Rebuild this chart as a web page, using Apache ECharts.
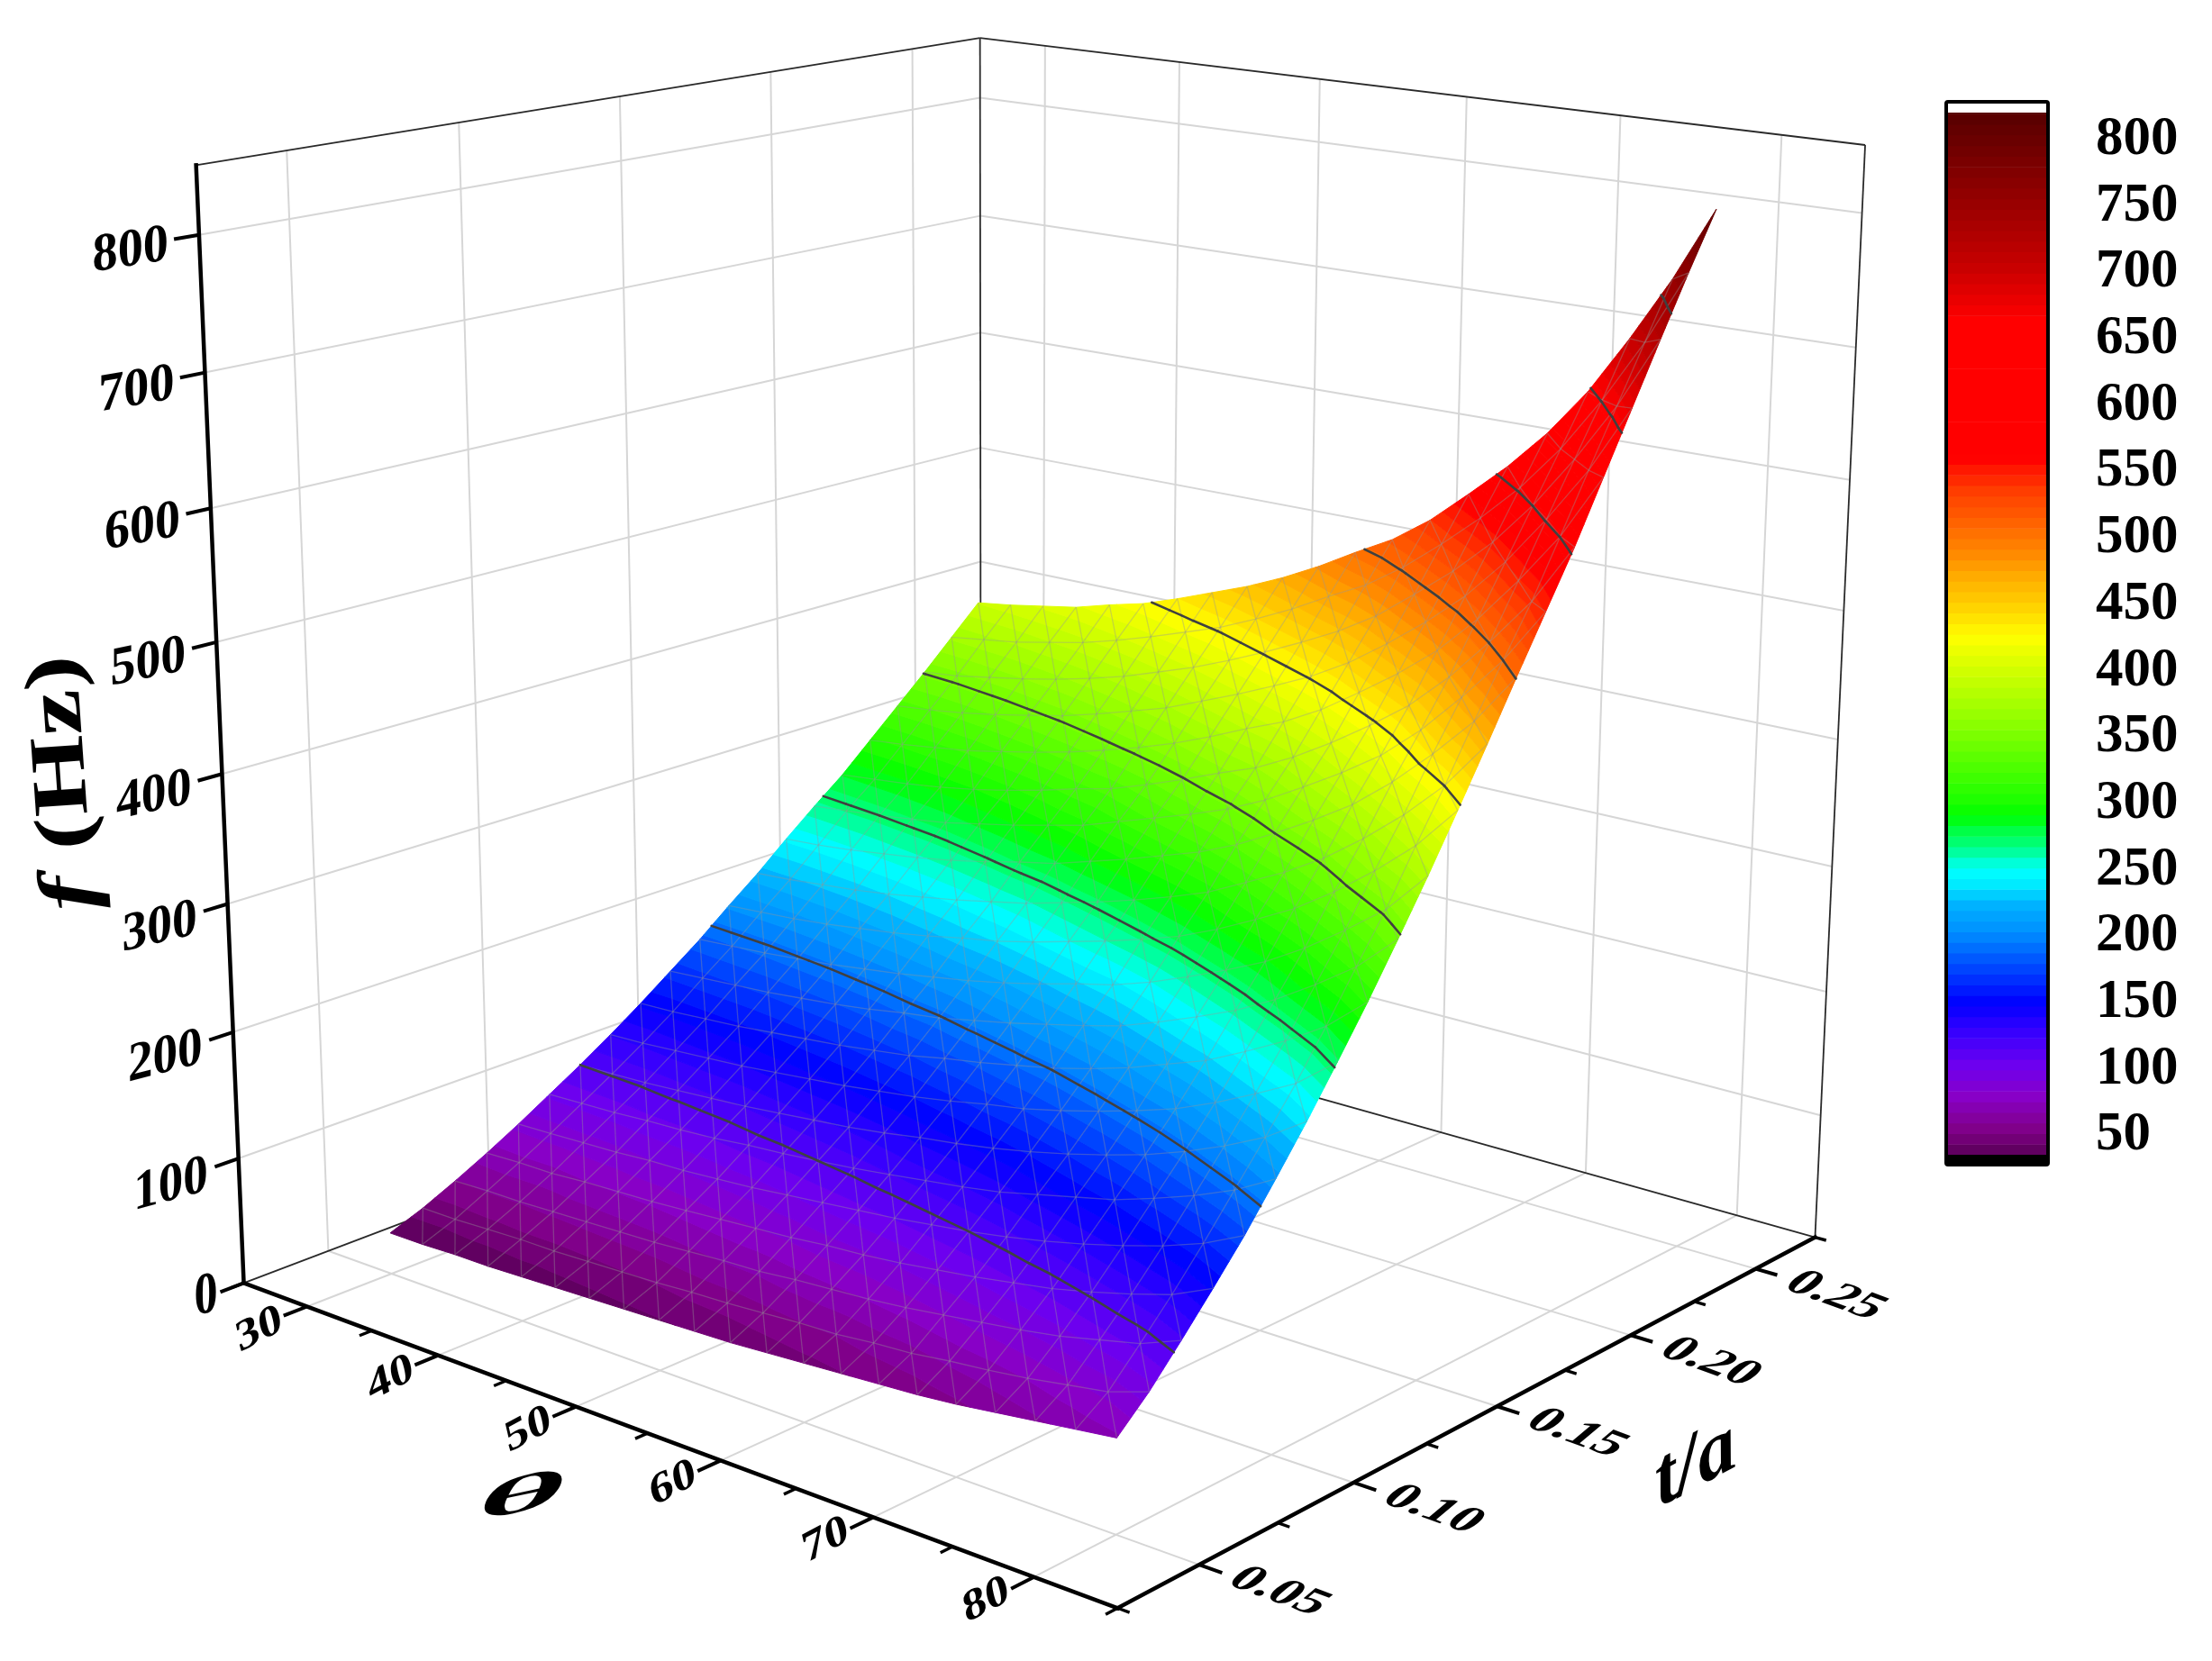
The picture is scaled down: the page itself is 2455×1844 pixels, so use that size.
<!DOCTYPE html><html><head><meta charset="utf-8"><script src="https://cdn.jsdelivr.net/npm/echarts@6/dist/echarts.min.js"></script><style>html,body{margin:0;background:#fff}#c{width:2455px;height:1844px}</style></head><body><div id="c"></div><script>
// ---------- data ----------
const thetaValues=[30,32.5,35,37.5,40,42.5,45,47.5,50,52.5,55,57.5,60,62.5,65,67.5,70,72.5,75,77.5,80];
const ratioValues=[.05,.06,.07,.08,.09,.10,.11,.12,.13,.14,.15,.16,.17,.18,.19,.20,.21,.22,.23,.24,.25];
const fGrid=[
[33,33,34,34,35,36,37,38,39,40,41,43,45,47,49,51,54,58,62,66,70],
[43,43,44,45,45,46,47,48,50,51,53,55,56,59,61,65,68,72,77,82,92],
[55,56,56,57,58,59,60,62,64,65,68,70,72,75,79,83,87,92,99,106,118],
[68,69,69,71,72,73,75,77,79,81,84,86,89,93,97,102,107,114,122,131,145],
[82,83,84,85,87,88,90,92,95,98,101,104,108,112,117,123,130,138,147,158,173],
[97,98,99,101,102,104,107,109,112,115,119,123,127,132,139,146,153,163,174,187,204],
[112,113,114,116,118,120,123,126,129,133,138,142,147,153,160,168,177,188,201,216,236],
[128,129,131,133,135,138,141,144,148,152,157,163,168,175,183,192,202,215,230,246,270],
[145,146,148,150,153,156,159,163,167,173,178,184,190,198,207,218,229,244,260,279,305],
[163,165,167,169,172,175,179,184,188,194,200,207,214,222,233,245,258,274,293,314,342],
[181,183,185,188,191,195,199,204,209,215,222,230,237,247,259,272,286,304,325,348,380],
[201,203,205,208,212,216,221,227,232,239,247,255,264,274,287,302,318,338,361,387,420],
[220,222,225,228,232,237,242,248,254,262,270,279,289,300,315,330,348,370,395,424,461],
[241,243,246,250,254,259,265,272,278,287,296,306,316,329,345,362,381,405,433,464,503],
[261,264,267,271,275,281,287,294,301,311,321,331,342,356,373,391,411,437,468,502,544],
[280,283,286,290,295,301,308,316,323,333,344,356,367,382,400,420,442,470,503,539,585],
[302,305,309,313,319,325,332,340,349,359,371,384,396,412,432,453,477,507,542,581,630],
[324,327,331,336,342,348,356,365,374,386,398,411,425,442,463,486,512,544,582,624,675],
[346,349,354,359,365,372,380,390,400,412,425,439,454,472,495,519,547,581,621,666,720],
[369,373,377,383,389,397,406,416,426,439,453,469,484,504,528,554,583,618,660,708,764],
[392,396,401,406,414,421,431,442,453,466,481,498,514,535,561,588,619,656,701,750,806]];
const contourLevels=[112,189,267,345,423.5,502,580.5,659,737];
const thetaMajor=[30,40,50,60,70,80], thetaMinor=[25,35,45,55,65,75,85];
const ratioMajor=[.05,.10,.15,.20,.25], ratioMinor=[.025,.075,.125,.175,.225,.275];
const fMajor=[0,100,200,300,400,500,600,700,800];
const barTicks=[50,100,150,200,250,300,350,400,450,500,550,600,650,700,750,800];
const colorStops=[31,35,50,76,100,127,146,164,182,200,219,237,246,255,264,277,287,300,325,350,377,400,422,431,450,465,485,500,516,530,551,556,660,700,750,800,817];
const colorValues=['#5a005a','#600060','#800086','#8800c8','#6c00f0','#3000ff','#0000ff','#0030ff','#0060ff','#0090ff','#00b0ff','#00f0ff','#00ffff','#00ffc0','#00ff80','#00ff40','#00ff00','#20ff00','#50ff00','#80ff00','#b0ff00','#d8ff00','#ffff00','#ffeb00','#ffc800','#ffb000','#ff8800','#ff7000','#ff5500','#ff4000','#ff1000','#ff0000','#ff0000','#c80000','#960000','#660000','#550000'];
// ---------- box limits ----------
const TH0=25,TH1=85,R0=.025,R1=.275,F0=0,F1=850,BAR0=31.5,BAR1=816.3;
// ---------- projection: least-squares camera through the picture's box corners and ticks ----------
const corners=[[25,.025,0,270,1425],[85,.025,0,1240,1785],[85,.275,0,2015,1374],[25,.275,0,1088,1112],[25,.025,850,217,181],[25,.275,850,1088,41.5],[85,.275,850,2070,160]];
const anchors=[...corners,...corners,...corners,
[30,.025,0,340,1449],[40,.025,0,488,1506.5],[50,.025,0,638,1561],[60,.025,0,800,1621],[70,.025,0,968,1683],[80,.025,0,1147,1750],
[85,.05,0,1332,1736],[85,.1,0,1501,1647],[85,.15,0,1662,1560],[85,.2,0,1811,1482],[85,.25,0,1952,1410],
[25,.025,100,265,1286],[25,.025,200,259,1147],[25,.025,300,253,1005],[25,.025,400,247,861],[25,.025,500,242,715],[25,.025,600,236,565],[25,.025,700,229,414],[25,.025,800,220,262],
[25,.275,800,1088,108.5],[25,.275,700,1088,241],[25,.275,600,1088,370.5],[25,.275,500,1088,498],[25,.275,400,1088,625],
[85,.275,800,2066,239],[85,.275,700,2059,386],[85,.275,600,2052,533],[85,.275,500,2045,679]];
const nm=(th,t,f)=>[(th-55)/30,(t-.15)/.125,(f-425)/425];
const P=(()=>{const N=Array.from({length:11},()=>new Array(12).fill(0));
 const add=(r,v)=>{for(let i=0;i<11;i++){for(let j=0;j<11;j++)N[i][j]+=r[i]*r[j];N[i][11]+=r[i]*v;}};
 for(const q of anchors){const [a,b,c]=nm(q[0],q[1],q[2]);const x=q[3]/1000,y=q[4]/1000;add([a,b,c,1,0,0,0,0,-x*a,-x*b,-x*c],x);add([0,0,0,0,a,b,c,1,-y*a,-y*b,-y*c],y);}
 for(let i=0;i<11;i++){let m=i;for(let k=i;k<11;k++)if(Math.abs(N[k][i])>Math.abs(N[m][i]))m=k;[N[i],N[m]]=[N[m],N[i]];for(let k=0;k<11;k++)if(k!=i){const r=N[k][i]/N[i][i];for(let j=i;j<12;j++)N[k][j]-=r*N[i][j];}}
 return N.map((r,i)=>r[11]/r[i]);})();
function project(th,t,f){const [a,b,c]=nm(th,t,f);const w=P[8]*a+P[9]*b+P[10]*c+1;return[1000*(P[0]*a+P[1]*b+P[2]*c+P[3])/w,1000*(P[4]*a+P[5]*b+P[6]*c+P[7])/w];}
// ---------- colours ----------
const hex=s=>[parseInt(s.slice(1,3),16),parseInt(s.slice(3,5),16),parseInt(s.slice(5,7),16)];
function colorOf(v){let i=0;while(i<colorStops.length-2&&v>colorStops[i+1])i++;const k=Math.max(0,Math.min(1,(v-colorStops[i])/(colorStops[i+1]-colorStops[i])));const a=hex(colorValues[i]),b=hex(colorValues[i+1]);return`rgb(${a.map((x,n)=>Math.round(x+(b[n]-x)*k)).join(',')})`;}
const BAND=8,bandFloor=[];for(let v=BAR0;v<BAR1;v+=BAND)bandFloor.push(v);
// ---------- triangles ----------
const triangles=[];
for(let j=ratioValues.length-2;j>=0;j--)for(let i=0;i<thetaValues.length-1;i++){triangles.push([i,j,i+1,j,i,j+1]);triangles.push([i+1,j,i+1,j+1,i,j+1]);}
const vertex=(i,j)=>[thetaValues[i],ratioValues[j],fGrid[j][i]];
function clipPoly(poly,level,keepAbove){const out=[];for(let n=0;n<poly.length;n++){const a=poly[n],b=poly[(n+1)%poly.length];const ia=keepAbove?a[2]>=level:a[2]<=level,ib=keepAbove?b[2]>=level:b[2]<=level;if(ia)out.push(a);if(ia!==ib){const k=(level-a[2])/(b[2]-a[2]);out.push([a[0]+(b[0]-a[0])*k,a[1]+(b[1]-a[1])*k,level]);}}return out;}
const pts=(api,arr)=>arr.map(q=>api.coord(project(q[0],q[1],q[2])));
function renderSurface(p,api){const a=vertex(api.value(0),api.value(1)),b=vertex(api.value(2),api.value(3)),c=vertex(api.value(4),api.value(5));const tri=[a,b,c];const mn=Math.min(a[2],b[2],c[2]),mx=Math.max(a[2],b[2],c[2]);const children=[];
 for(const lo of bandFloor){const hi=lo+BAND;if(hi<mn||lo>mx)continue;let poly=clipPoly(tri,lo,true);if(poly.length<3)continue;poly=clipPoly(poly,hi,false);if(poly.length<3)continue;const col=colorOf(lo+BAND/2);children.push({type:'polygon',shape:{points:pts(api,poly)},style:{fill:col,stroke:col,lineWidth:1}});}
 return{type:'group',children};}
function renderMesh(p,api){const i=api.value(0),j=api.value(1);const children=[];const seg=(u,v)=>children.push({type:'line',shape:(()=>{const [s,e]=pts(api,[u,v]);return{x1:s[0],y1:s[1],x2:e[0],y2:e[1]};})(),style:{stroke:'rgba(150,150,150,0.38)',lineWidth:1.3}});
 if(j>0)seg(vertex(i,j),vertex(i+1,j));if(i>0)seg(vertex(i,j),vertex(i,j+1));seg(vertex(i+1,j),vertex(i,j+1));return{type:'group',children};}
function renderContour(p,api){const tri=triangles[api.value(0)];const t=[vertex(tri[0],tri[1]),vertex(tri[2],tri[3]),vertex(tri[4],tri[5])];const children=[];
 for(const L of contourLevels){const c=[];for(let n=0;n<3;n++){const a=t[n],b=t[(n+1)%3];if((a[2]<L)!==(b[2]<L)){const k=(L-a[2])/(b[2]-a[2]);c.push([a[0]+(b[0]-a[0])*k,a[1]+(b[1]-a[1])*k,L]);}}
  if(c.length===2){const [s,e]=pts(api,c);children.push({type:'line',shape:{x1:s[0],y1:s[1],x2:e[0],y2:e[1]},style:{stroke:'#404040',lineWidth:2.6,lineCap:'round'}});}}
 return{type:'group',children};}
// ---------- box lines: [th1,t1,f1,th2,t2,f2,style] ----------
const boxLines=[];const GR=0,THIN=1,AX=2,MAJ=3,MIN=4;
const zLines=fMajor.filter(v=>v>0);
for(const z of zLines){boxLines.push([TH0,R0,z,TH0,R1,z,GR],[TH0,R1,z,TH1,R1,z,GR]);}
for(const t of ratioMajor){boxLines.push([TH0,t,F0,TH0,t,F1,GR],[TH0,t,F0,TH1,t,F0,GR]);}
for(const th of thetaMajor){boxLines.push([th,R1,F0,th,R1,F1,GR],[th,R0,F0,th,R1,F0,GR]);}
boxLines.push([TH0,R0,F0,TH0,R1,F0,THIN],[TH0,R1,F0,TH1,R1,F0,THIN],[TH0,R1,F0,TH0,R1,F1,THIN],[TH1,R1,F0,TH1,R1,F1,THIN],[TH0,R0,F1,TH0,R1,F1,THIN],[TH0,R1,F1,TH1,R1,F1,THIN]);
boxLines.push([TH0,R0,F0,TH1,R0,F0,AX],[TH1,R0,F0,TH1,R1,F0,AX],[TH0,R0,F0,TH0,R0,F1,AX]);
for(const th of thetaMajor)boxLines.push([th,R0,F0,th,R0-.0068,F0,MAJ]);
for(const th of thetaMinor)boxLines.push([th,R0,F0,th,R0-.0036,F0,MIN]);
for(const t of ratioMajor)boxLines.push([TH1,t,F0,TH1+1.35,t,F0,MAJ]);
for(const t of ratioMinor)boxLines.push([TH1,t,F0,TH1+.7,t,F0,MIN]);
for(const z of fMajor)boxLines.push([TH0,R0,z,TH0,R0-.0068,z,MAJ]);
const lineStyles=[{stroke:'#d6d6d6',lineWidth:2},{stroke:'#2a2a2a',lineWidth:1.8},{stroke:'#000',lineWidth:4.5,lineCap:'square'},{stroke:'#000',lineWidth:4},{stroke:'#000',lineWidth:3.4}];
function renderBox(p,api){const [s,e]=[api.coord(project(api.value(0),api.value(1),api.value(2))),api.coord(project(api.value(3),api.value(4),api.value(5)))];return{type:'line',shape:{x1:s[0],y1:s[1],x2:e[0],y2:e[1]},style:lineStyles[api.value(6)]};}
// ---------- tick and axis labels ----------
const FONT="'Liberation Serif'";const D=Math.PI/180;const labels=[];
for(const th of thetaMajor){const q=project(th,R0,F0);labels.push({text:String(th),x:q[0]-53,y:q[1]+26,rot:28,skew:-15,size:56,sy:.82});}
for(const t of ratioMajor){const q=project(TH1,t,F0);labels.push({text:t.toFixed(2),x:q[0]+88,y:q[1]+30,rot:-20,skew:-30,size:60,sy:.75});}
for(const z of fMajor){const q=project(TH0,R0,z);const r=9+(800-z)*.009;
 if(z===0)labels.push({text:'0',x:q[0]-42,y:q[1]+16,rot:8,skew:-8,size:62,sy:1.05,sx:.85});
 else labels.push({text:String(z),x:q[0]-34,y:q[1]+12+(800-z)*.01,rot:r,skew:-r,size:57,sy:1.04,align:'right'});}
labels.push({text:'θ',x:579,y:1663,rot:12,skew:-10,size:100,sy:.55,sx:1.9,style:'italic'});
labels.push({text:'t/a',x:1882,y:1627,rot:28,skew:-18,size:84,sy:1,sx:1.12,style:'italic'});
labels.push({rich:true,text:'{i|f} {b|(Hz)}',x:72,y:869,rot:94,skew:0,size:94,sy:.92,sx:1.22});
function renderLabel(p,api){const l=labels[api.value(0)];const c=api.coord([l.x,l.y]);const style={text:l.text,fill:'#000',align:l.align||'center',verticalAlign:'middle',font:`${l.style||'normal'} bold ${l.size}px ${FONT}`};
 if(l.rich){style.rich={i:{font:`italic bold ${l.size}px ${FONT}`,fill:'#000'},b:{font:`bold ${l.size}px ${FONT}`,fill:'#000'}};}
 return{type:'text',x:c[0],y:c[1],rotation:l.rot*D,skewX:l.skew*D,scaleX:l.sx||1,scaleY:l.sy,style};}
// ---------- colour bar ----------
function renderBar(p,api){const lo=api.value(0);const a=api.coord([0,lo]),b=api.coord([1,Math.min(lo+BAND,BAR1)]);return{type:'rect',shape:{x:a[0],y:b[1],width:b[0]-a[0],height:a[1]-b[1]+.6},style:{fill:colorOf(lo+BAND/2)}};}
const frame=[[2160,113,113,1180]];
function renderFrame(p,api){const c=api.coord([api.value(0),api.value(1)]);const children=[{type:'rect',shape:{x:c[0],y:1282,width:api.value(2),height:11},style:{fill:'#000'}},{type:'rect',shape:{x:c[0],y:c[1],width:api.value(2),height:api.value(3),r:2},style:{fill:'none',stroke:'#000',lineWidth:4}}];return{type:'group',children};}
// ---------- chart ----------
const common={type:'custom',silent:true,clip:false,animation:false,progressive:0,xAxisIndex:0,yAxisIndex:0};
const chart=echarts.init(document.getElementById('c'),null,{renderer:'canvas'});
chart.setOption({animation:false,backgroundColor:'#fff',
 grid:[{left:0,top:0,width:2455,height:1844},{left:2160,top:125,width:113,height:1157}],
 xAxis:[{type:'value',min:0,max:2455,show:false},{type:'value',gridIndex:1,min:0,max:1,show:false}],
 yAxis:[{type:'value',min:0,max:1844,inverse:true,show:false},
  {type:'value',gridIndex:1,position:'right',min:BAR0,max:BAR1,splitLine:{show:false},axisLine:{show:false},
   axisTick:{show:true,length:29,inside:false,lineStyle:{color:'#000',width:3.5},customValues:barTicks},
   axisLabel:{show:true,margin:53,color:'#000',fontFamily:FONT,fontWeight:'bold',fontSize:61,formatter:'{a|{value}}',rich:{a:{fontFamily:FONT,fontWeight:'bold',fontSize:61,color:'#000',padding:[12,0,0,0]}},customValues:barTicks,showMinLabel:true,showMaxLabel:true}}],
 series:[
  {...common,name:'box',z:1,data:boxLines,renderItem:renderBox},
  {...common,name:'surface',z:2,data:triangles,renderItem:renderSurface},
  {...common,name:'mesh',z:3,data:triangles.filter((q,n)=>n%2===0).map(q=>[q[0],q[1]]),renderItem:renderMesh},
  {...common,name:'contours',z:4,data:triangles.map((q,n)=>[n]),renderItem:renderContour},
  {...common,name:'labels',z:5,data:labels.map((l,n)=>[n]),renderItem:renderLabel},
  {...common,name:'bar',z:2,xAxisIndex:1,yAxisIndex:1,data:bandFloor.map(v=>[v]),encode:{y:0},renderItem:renderBar},
  {...common,name:'frame',z:3,data:frame,renderItem:renderFrame}
 ]});
</script></body></html>
